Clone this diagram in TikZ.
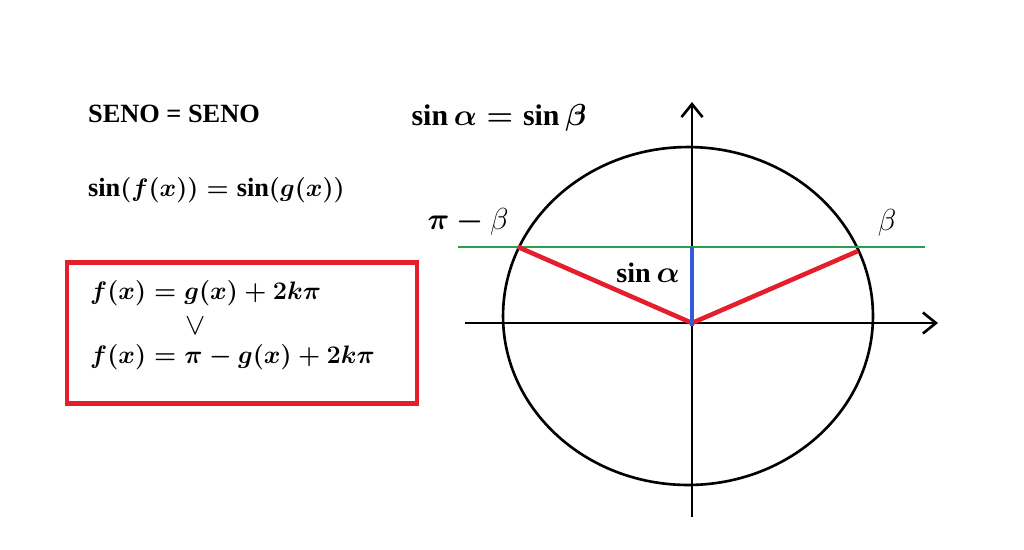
\documentclass[tikz,border=0pt]{standalone}
\usepackage{bm}
\usepackage{fontspec}
\setmainfont{Liberation Serif}
\usetikzlibrary{arrows.meta, positioning, calc}

\definecolor{boxred}{RGB}{228,30,42}
\definecolor{linegreen}{RGB}{40,160,80}
\definecolor{lineblue}{RGB}{50,90,220}

\begin{document}
\begin{tikzpicture}[
    x=0.02cm, y=-0.02cm,
    eq/.style={font=\fontsize{15}{18}\selectfont\boldmath, inner sep=1pt},
    sol/.style={font=\fontsize{13.5}{16}\selectfont\boldmath, inner sep=1pt},
    plain/.style={font=\fontsize{16}{19}\selectfont, inner sep=1pt},
    box/.style={rectangle, draw=boxred, line width=2.4pt, minimum width=7cm, minimum height=2.82cm},
    axis/.style={-{Straight Barb[length=2.6mm, width=4.2mm, line width=1.5pt]}, line width=1.5pt},
    ray/.style={draw=boxred, line width=2.6pt},
    level/.style={draw=linegreen, line width=1.3pt}
]
    \useasboundingbox (0,0) rectangle (1024,549);

    % --- Left side: formulas ---
    \node[font=\fontsize{15}{18}\selectfont\bfseries, anchor=west, inner sep=1pt] (title) at (86,114) {SENO = SENO};
    \node[eq, anchor=west] (eqsin) at (86,190) {$\sin\bigl(f(x)\bigr)=\sin(g(x))$};

    \node[box] (sol) at (242,333) {};
    \node[sol, anchor=west] (solA) at (88,293) {$f(x)=g(x)+2k\pi$};
    \node[font=\fontsize{17}{19}\selectfont, inner sep=0pt] (vee) at (196,326) {$\vee$};
    \node[sol, anchor=west] (solB) at (88,357) {$f(x)=\pi-g(x)+2k\pi$};

    % --- Right side: unit circle ---
    \coordinate (o) at (692,323);
    \coordinate (c) at (688,316);
    \coordinate (xs) at (465,323);
    \coordinate (xe) at (938,323);
    \coordinate (ys) at (692,517);
    \coordinate (ye) at (692,102);

    \draw[line width=1.5pt] (c) ellipse [x radius=3.7cm, y radius=3.38cm];
    \draw[axis] (xs) -- (xe);
    \draw[axis] (ys) -- (ye);

    \coordinate (gl) at (458,247);
    \coordinate (gr) at (925,247);
    \coordinate (p) at (518,247);
    \coordinate (q) at (858,251);
    \coordinate (s) at (692,247);

    \draw[level] (gl) -- (gr);
    \draw[ray] (p) -- (o) -- (q);
    \draw[draw=lineblue, line width=2.2pt] (s) -- ($(o)+(0,3)$);

    \node[eq, font=\fontsize{17}{20}\selectfont\boldmath] (alphabeta) at (499,118) {$\sin\alpha=\sin\beta$};
    \node[plain] (pib) at (468,222) {$\bm{\pi-{}}\beta$};
    \node[plain] (b) at (887,223) {$\beta$};
    \node[eq, font=\fontsize{16}{19}\selectfont\boldmath] (sa) at (648,273) {$\sin\alpha$};

\end{tikzpicture}
\end{document}
